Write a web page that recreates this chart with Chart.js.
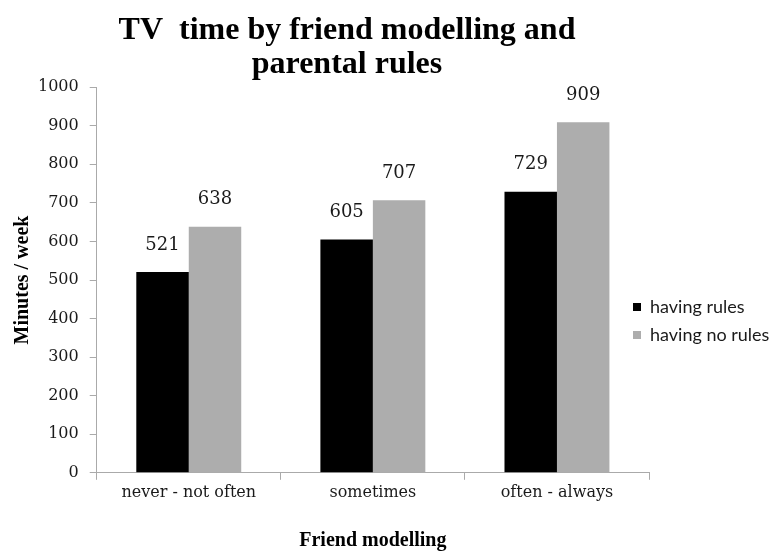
<!DOCTYPE html>
<html>
<head>
<meta charset="utf-8">
<script src="https://cdn.jsdelivr.net/npm/chart.js@4.4.1/dist/chart.umd.min.js"></script>
<style>
  body { margin: 0; background: #fff; }
</style>
</head>
<body>
<canvas id="myChart" width="772" height="554"></canvas>
<script>
// data
var categories = ['never - not often', 'sometimes', 'often - always'];
var havingRules = [521, 605, 729];
var havingNoRules = [638, 707, 909];
var seriesNames = ['having rules', 'having no rules'];
var yTicks = [0, 1000, 100]; // min, max, step

var axisGray = '#aaaaaa';

// numbers above the bars
var valueLabels = {
    id: 'valueLabels',
    afterDatasetsDraw: function(chart) {
        var ctx = chart.ctx;
        ctx.save();
        ctx.font = '18px "DejaVu Serif"';
        ctx.fillStyle = '#1a1a1a';
        ctx.textAlign = 'center';
        ctx.textBaseline = 'middle';
        chart.data.datasets.forEach(function(ds, i) {
            chart.getDatasetMeta(i).data.forEach(function(bar, j) {
                ctx.fillText(ds.data[j], bar.x, bar.y - 27);
            });
        });
        ctx.restore();
    }
};

// excel puts the legend over the plot edge and the title off-centre
var nudge = {
    id: 'nudge',
    afterLayout: function(chart) {
        var lg = chart.legend;
        lg.left -= 26;
        lg.top += 41; lg.bottom += 41;
        var t = chart.titleBlock;
        t.left -= 39; t.right -= 39;
    }
};

Chart.defaults.font.family = '"DejaVu Serif"';
Chart.defaults.color = '#1a1a1a';

var ctx = document.getElementById('myChart');
var myChart = new Chart(ctx, {
    type: 'bar',
    data: {
        labels: categories,
        datasets: [{
            label: seriesNames[0],
            data: havingRules,
            backgroundColor: '#000000',
            borderWidth: 0
        }, {
            label: seriesNames[1],
            data: havingNoRules,
            backgroundColor: '#adadad',
            borderWidth: 0
        }]
    },
    options: {
        responsive: false,
        animation: false,
        devicePixelRatio: 1,
        layout: { padding: 0 },
        datasets: {
            bar: { categoryPercentage: 0.57, barPercentage: 1 }
        },
        plugins: {
            title: {
                display: true,
                text: ['TV  time by friend modelling and', 'parental rules'],
                color: '#000',
                font: { family: '"Liberation Serif"', size: 32, weight: 'bold', lineHeight: 1.05 },
                padding: { top: 14, bottom: 6 }
            },
            legend: {
                position: 'right',
                fullSize: false,
                maxWidth: 123,
                labels: {
                    boxWidth: 8,
                    boxHeight: 8,
                    padding: 10,
                    color: '#1a1a1a',
                    font: { family: 'Lato', size: 18 }
                }
            },
            tooltip: { enabled: false }
        },
        scales: {
            x: {
                grid: { drawOnChartArea: false, tickLength: 7, color: axisGray },
                border: { color: axisGray },
                ticks: { padding: 3, font: { size: 16 } },
                title: {
                    display: true,
                    text: 'Friend modelling',
                    color: '#000',
                    font: { family: '"Liberation Serif"', size: 20, weight: 'bold' },
                    padding: { top: 24, bottom: 1 }
                }
            },
            y: {
                min: yTicks[0],
                max: yTicks[1],
                grid: { drawOnChartArea: false, tickLength: 7, color: axisGray },
                border: { color: axisGray },
                ticks: {
                    stepSize: yTicks[2],
                    padding: 11,
                    font: { size: 16 },
                    callback: function(v) { return String(v); }
                },
                afterFit: function(scale) { scale.width -= 11; },
                title: {
                    display: true,
                    text: 'Minutes / week',
                    color: '#000',
                    font: { family: '"Liberation Serif"', size: 20, weight: 'bold' },
                    padding: { top: 11, bottom: 3 }
                }
            }
        }
    },
    plugins: [valueLabels, nudge]
});
</script>
</body>
</html>
